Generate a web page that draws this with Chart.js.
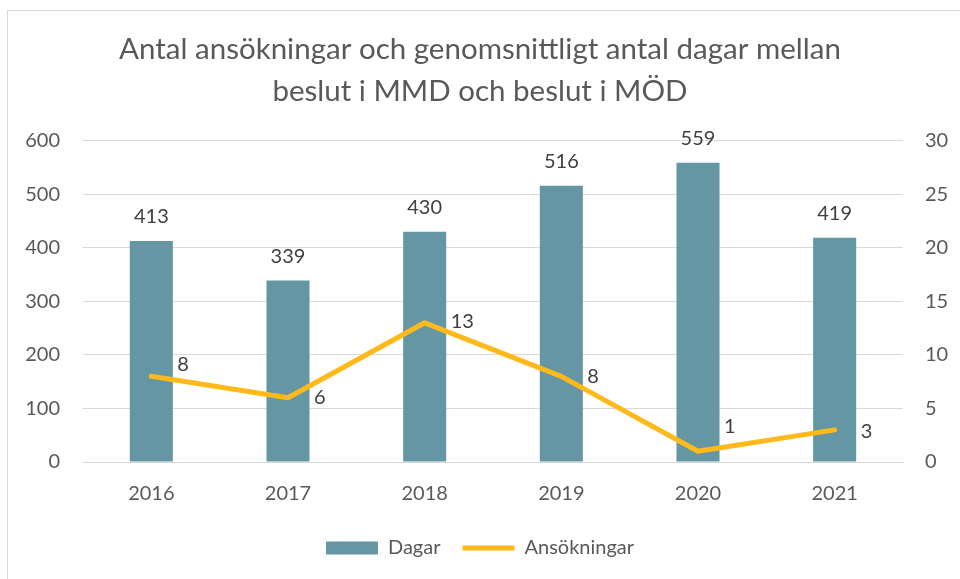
<!DOCTYPE html>
<html>
<head>
<meta charset="utf-8">
<script src="https://cdn.jsdelivr.net/npm/chart.js@4.4.1/dist/chart.umd.min.js"></script>
<style>
  html, body { margin: 0; padding: 0; background: #fff; }
  #wrap { width: 960px; height: 579px; position: relative; }
</style>
</head>
<body>
<div id="wrap"><canvas id="chart"></canvas></div>
<script>
const years = ['2016', '2017', '2018', '2019', '2020', '2021'];
const dagar = [413, 339, 430, 516, 559, 419];
const ansokningar = [8, 6, 13, 8, 1, 3];
const titleLines = ['Antal ansökningar och genomsnittligt antal dagar mellan', 'beslut i MMD och beslut i MÖD'];

const FONT = 'Lato, "Open Sans", sans-serif';
const TEXT = '#595959';
const BAR = '#6496a3';
const LINE = '#ffb91a';

// small nudges for the line labels, like the hand-placed ones in the original
const lineLabelShift = [[0, -12], [0, 0], [0, -1], [0, 0], [0, -25], [0, 2]];

const frame = {
  id: 'frame',
  beforeDraw(chart) {
    const ctx = chart.ctx;
    ctx.save();
    ctx.fillStyle = '#fff';
    ctx.fillRect(0, 0, chart.width, chart.height);
    ctx.strokeStyle = '#d9d9d9';
    ctx.lineWidth = 1;
    ctx.strokeRect(7.5, 10.5, chart.width + 20, chart.height + 20);
    ctx.restore();
  }
};

const valueLabels = {
  id: 'valueLabels',
  afterDatasetsDraw(chart) {
    const ctx = chart.ctx;
    ctx.save();
    ctx.font = '20px ' + FONT;
    ctx.fillStyle = '#404040';
    ctx.textBaseline = 'middle';
    chart.getDatasetMeta(0).data.forEach((bar, i) => {
      ctx.textAlign = 'center';
      ctx.fillText(String(dagar[i]), bar.x, bar.y - 24);
    });
    chart.getDatasetMeta(1).data.forEach((pt, i) => {
      ctx.textAlign = 'left';
      const s = lineLabelShift[i];
      ctx.fillText(String(ansokningar[i]), pt.x + 26 + s[0], pt.y + s[1]);
    });
    ctx.restore();
  }
};

new Chart(document.getElementById('chart'), {
  data: {
    labels: years,
    datasets: [
      {
        type: 'bar',
        label: 'Dagar',
        data: dagar,
        backgroundColor: BAR,
        yAxisID: 'y',
        order: 2,
        barPercentage: 0.315,
        categoryPercentage: 1,
        pointStyle: 'rect'
      },
      {
        type: 'line',
        label: 'Ansökningar',
        data: ansokningar,
        borderColor: LINE,
        backgroundColor: LINE,
        borderWidth: 5,
        borderCapStyle: 'round',
        borderJoinStyle: 'round',
        pointRadius: 0,
        pointHoverRadius: 0,
        tension: 0,
        yAxisID: 'y1',
        order: 1,
        pointStyle: 'line'
      }
    ]
  },
  options: {
    responsive: true,
    maintainAspectRatio: false,
    animation: false,
    layout: { padding: { top: 0, bottom: 11, left: 0, right: 0 } },
    plugins: {
      title: {
        display: true,
        text: titleLines,
        color: TEXT,
        font: { family: FONT, size: 29.5, weight: 'normal', lineHeight: 1.42 },
        padding: { top: 29, bottom: 28 }
      },
      legend: {
        position: 'bottom',
        labels: {
          color: TEXT,
          font: { family: FONT, size: 20 },
          usePointStyle: true,
          pointStyleWidth: 52,
          boxWidth: 52,
          boxHeight: 13,
          padding: 22,
          sort: (a, b) => a.datasetIndex - b.datasetIndex
        }
      },
      tooltip: { enabled: false }
    },
    scales: {
      x: {
        grid: { display: false, drawTicks: false },
        border: { color: '#d9d9d9' },
        ticks: { color: TEXT, font: { family: FONT, size: 20 }, padding: 20 },
        afterFit(s) { s.height = 54; }
      },
      y: {
        position: 'left',
        min: 0,
        max: 600,
        ticks: { stepSize: 100, color: TEXT, font: { family: FONT, size: 20 }, padding: 23 },
        grid: { color: '#d9d9d9', drawTicks: false },
        border: { display: false },
        afterFit(s) { s.width = 83; }
      },
      y1: {
        position: 'right',
        min: 0,
        max: 30,
        ticks: { stepSize: 5, color: TEXT, font: { family: FONT, size: 20 }, padding: 22 },
        grid: { display: false, drawTicks: false },
        border: { display: false },
        afterFit(s) { s.width = 57; }
      }
    }
  },
  plugins: [frame, valueLabels]
});
</script>
</body>
</html>
